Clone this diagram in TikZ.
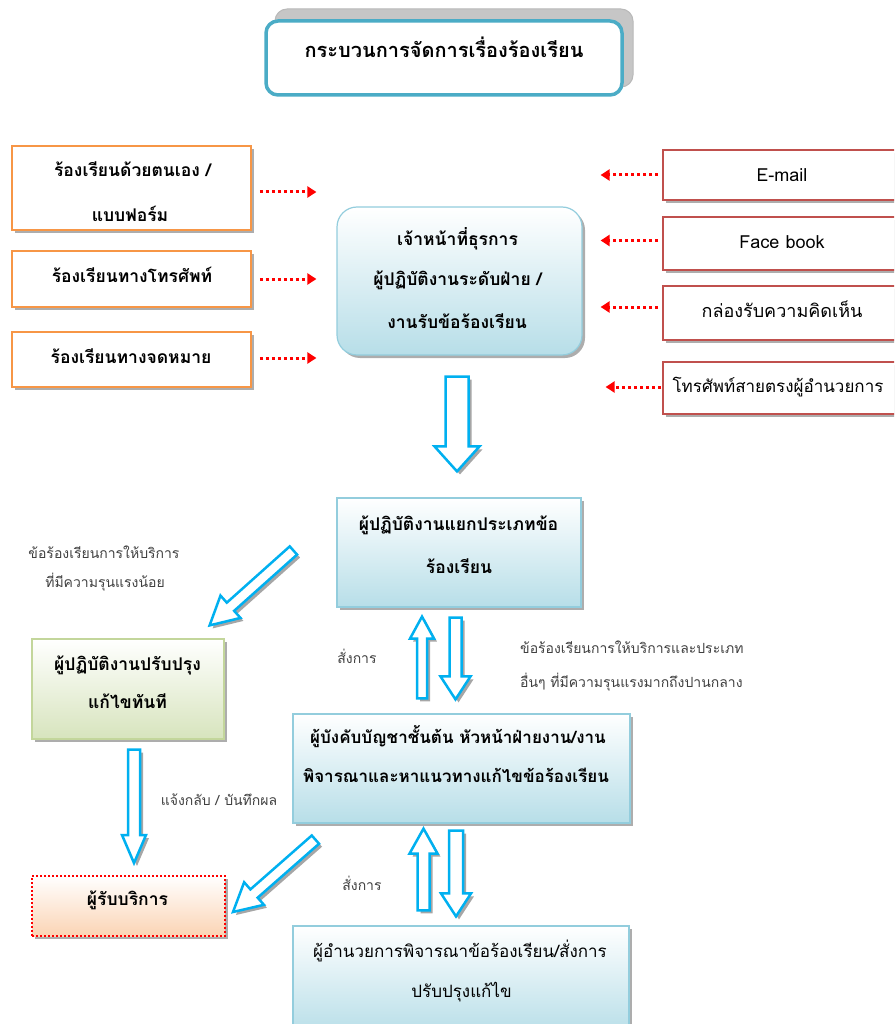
\documentclass[tikz,border=0pt]{standalone}
\usepackage{fontspec}
\setmainfont{Loma}[Script=Thai]
\usetikzlibrary{calc,shadows,arrows.meta}
\definecolor{cTeal}{HTML}{4BACC6}
\definecolor{cOrange}{HTML}{F79646}
\definecolor{cRedB}{HTML}{C0504D}
\definecolor{cLBlue}{HTML}{93CDDD}
\definecolor{cBlueFill}{HTML}{B7DEE8}
\definecolor{cArrow}{HTML}{00B0F0}
\definecolor{cGreenB}{HTML}{C3D69B}
\definecolor{cGreenF}{HTML}{D7E4BD}
\definecolor{cPeach}{HTML}{FBD4B4}
\definecolor{cNote}{HTML}{404040}
\newcommand\blockarrow[5]{%
  \coordinate (bah) at ($(#2)!#5!(#1)$);
  \path[blockarr] ($(#1)!#3!90:(#2)$) -- ($(bah)!#3!90:(#2)$) -- ($(bah)!#4!90:(#2)$) -- (#2)
    -- ($(bah)!#4!-90:(#2)$) -- ($(bah)!#3!-90:(#2)$) -- ($(#1)!#3!-90:(#2)$) -- cycle;
}
\begin{document}
\begin{tikzpicture}[x=1pt,y=-1pt,
  shadowed/.style={drop shadow={shadow xshift=3pt,shadow yshift=-3pt,opacity=0.8,fill=black!40}},
  boxbase/.style={rectangle,inner sep=0pt},
  obox/.style={boxbase,draw=cOrange,line width=1.8pt,fill=white,shadowed},
  rbox/.style={boxbase,draw=cRedB,line width=1.8pt,fill=white,shadowed},
  bbox/.style={boxbase,draw=cLBlue,line width=1.2pt,top color=white,bottom color=cBlueFill,shadowed},
  gbox/.style={boxbase,draw=cGreenB,line width=1.2pt,top color=white,bottom color=cGreenF,shadowed},
  sbox/.style={boxbase,draw=red,line width=2pt,dotted,top color=white,bottom color=cPeach,shadowed},
  lbl/.style={anchor=base,inner sep=0pt,font=\fontsize{17.5}{20}\selectfont\bfseries},
  rlbl/.style={anchor=base,inner sep=0pt,font=\fontsize{18}{20}\selectfont},
  note/.style={anchor=base,inner sep=0pt,text=cNote,font=\fontsize{14}{16}\selectfont},
  reddot/.style={draw=red,line width=3pt,dash pattern=on 3pt off 3pt,-{Triangle[length=9pt,width=11pt]}},
  blockarr/.style={draw=cArrow,line width=2.5pt,fill=white,line join=miter,
    drop shadow={shadow xshift=3pt,shadow yshift=-3pt,opacity=0.7,fill=black!50}}
]
\useasboundingbox (0,0) rectangle (894,1024);
\clip (0,0) rectangle (894,1024);

% title
\node[boxbase,draw=gray!55,fill=gray!45,line width=1pt,rounded corners=12pt,minimum width=358,minimum height=78] (tshadow) at (454,48) {};
\node[boxbase,draw=cTeal,fill=white,line width=3.5pt,rounded corners=12pt,minimum width=356,minimum height=74] (title) at (444,58) {};
\node[lbl,font=\fontsize{20}{22}\selectfont\bfseries] (titletext) at (444,58) {กระบวนการจัดการเรื่องร้องเรียน};

% left channel boxes
\node[obox,minimum width=239,minimum height=84] (L1) at (131.5,188) {};
\node[lbl] (L1a) at (132.5,177) {ร้องเรียนด้วยตนเอง /};
\node[lbl] (L1b) at (130,222) {แบบฟอร์ม};
\node[obox,minimum width=239,minimum height=56] (L2) at (131.5,279) {};
\node[lbl] (L2a) at (132,282) {ร้องเรียนทางโทรศัพท์};
\node[obox,minimum width=239,minimum height=55] (L3) at (131.5,359.5) {};
\node[lbl] (L3a) at (131,363) {ร้องเรียนทางจดหมาย};

% centre reception box
\node[bbox,rounded corners=20pt,minimum width=245,minimum height=148] (C1) at (459.5,281) {};
\node[lbl] (C1a) at (457.5,245) {เจ้าหน้าที่ธุรการ};
\node[lbl] (C1b) at (457.5,285) {ผู้ปฏิบัติงานระดับฝ่าย /};
\node[lbl] (C1c) at (457,328) {งานรับข้อร้องเรียน};

% right channel boxes
\node[rbox,minimum width=237,minimum height=50] (R1) at (781.5,175) {};
\node[rlbl] (R1a) at (782,182) {E-mail};
\node[rbox,minimum width=237,minimum height=53] (R2) at (781.5,243.5) {};
\node[rlbl] (R2a) at (782,248) {Face book};
\node[rbox,minimum width=237,minimum height=54] (R3) at (781.5,313) {};
\node[rlbl] (R3a) at (782,317) {กล่องรับความคิดเห็น};
\node[rbox,minimum width=237,minimum height=52] (R4) at (781.5,388) {};
\node[rlbl,font=\fontsize{17}{20}\selectfont] (R4a) at (778,392) {โทรศัพท์สายตรงผู้อำนวยการ};

% red dotted arrows
\draw[reddot,shorten <=8pt,shorten >=20pt] ([yshift=-4pt]L1.east) -- ([yshift=-4pt]L1.east -| C1.west);
\draw[reddot,shorten <=8pt,shorten >=20pt] (L2.east) -- (L2.east -| C1.west);
\draw[reddot,shorten <=8pt,shorten >=20pt] ([yshift=1.5pt]L3.east) -- ([yshift=1.5pt]L3.east -| C1.west);
\draw[reddot,shorten <=4pt,shorten >=18pt] (R1.west) -- (R1.west -| C1.east);
\draw[reddot,shorten <=4pt,shorten >=18pt] ([yshift=3pt]R2.west) -- ([yshift=3pt]R2.west -| C1.east);
\draw[reddot,shorten <=4pt,shorten >=18pt] ([yshift=6pt]R3.west) -- ([yshift=6pt]R3.west -| C1.east);
\draw[reddot,shorten <=1pt,shorten >=23pt] ([yshift=1pt]R4.west) -- ([yshift=1pt]R4.west -| C1.east);

% classification box
\node[bbox,minimum width=244,minimum height=109] (C2) at (459,552.5) {};
\node[lbl] (C2a) at (458.5,530) {ผู้ปฏิบัติงานแยกประเภทข้อ};
\node[lbl] (C2b) at (459,573) {ร้องเรียน};

% immediate fix box
\node[gbox,minimum width=192,minimum height=100] (G) at (128,689) {};
\node[lbl] (Ga) at (127.5,670) {ผู้ปฏิบัติงานปรับปรุง};
\node[lbl] (Gb) at (127.5,708) {แก้ไขทันที};

% supervisor box
\node[bbox,minimum width=337,minimum height=109] (C3) at (461.5,768.5) {};
\node[lbl,font=\fontsize{17}{20}\selectfont\bfseries] (C3a) at (458,743) {ผู้บังคับบัญชาชั้นต้น หัวหน้าฝ่ายงาน/งาน};
\node[lbl,font=\fontsize{17}{20}\selectfont\bfseries] (C3b) at (456,782) {พิจารณาและหาแนวทางแก้ไขข้อร้องเรียน};

% service receiver box
\node[sbox,minimum width=193,minimum height=60] (S) at (128.5,906) {};
\node[lbl] (Sa) at (127.5,905) {ผู้รับบริการ};

% director box
\node[bbox,minimum width=336,minimum height=109] (C4) at (461,980.5) {};
\node[rlbl,font=\fontsize{17}{20}\selectfont] (C4a) at (460,957) {ผู้อำนวยการพิจารณาข้อร้องเรียน/สั่งการ};
\node[rlbl,font=\fontsize{17}{20}\selectfont] (C4b) at (461.5,997) {ปรับปรุงแก้ไข};

% notes
\node[note] (n1) at (104,558) {ข้อร้องเรียนการให้บริการ};
\node[note] (n2) at (105,587) {ที่มีความรุนแรงน้อย};
\node[note] (n3) at (357,663) {สั่งการ};
\node[note,anchor=base west] (n4) at (520,653) {ข้อร้องเรียนการให้บริการและประเภท};
\node[note,anchor=base west] (n5) at (520,687) {อื่นๆ ที่มีความรุนแรงมากถึงปานกลาง};
\node[note] (n6) at (219,805) {แจ้งกลับ / บันทึกผล};
\node[note] (n7) at (362,890) {สั่งการ};

% block arrow end points
\coordinate (a1t) at ($(C1.south)+(-2.5,21)$);
\coordinate (a1h) at ($(C2.north)+(-2,-26)$);
\coordinate (d1t) at ($(C2.west)+(-43,-2)$);
\coordinate (d1h) at ($(G.north east)+(-15,-13)$);
\coordinate (u1h) at ($(C2.south)+(-37,9)$);
\coordinate (u1t) at ($(C3.north)+(-39.5,-15)$);
\coordinate (d2t) at ($(C2.south)+(-3.5,10)$);
\coordinate (d2h) at ($(C3.north)+(-6,-14)$);
\coordinate (v1t) at ($(G.south)+(6,10)$);
\coordinate (v1h) at ($(S.north)+(5.5,-12)$);
\coordinate (d3t) at ($(C3.south west)+(23,16)$);
\coordinate (d3h) at ($(S.east)+(7,6)$);
\coordinate (u2h) at ($(C3.south)+(-38,5)$);
\coordinate (u2t) at ($(C4.north)+(-37.5,-15)$);
\coordinate (d4t) at ($(C3.south)+(-5.5,7)$);
\coordinate (d4h) at ($(C4.north)+(-5,-9)$);

\blockarrow{a1t}{a1h}{11.5pt}{22.5pt}{25pt}
\blockarrow{d1t}{d1h}{5.5pt}{15pt}{28pt}
\blockarrow{u1t}{u1h}{5pt}{12pt}{22pt}
\blockarrow{d2t}{d2h}{6pt}{15pt}{23pt}
\blockarrow{v1t}{v1h}{6pt}{12pt}{28pt}
\blockarrow{d3t}{d3h}{5.5pt}{15pt}{28pt}
\blockarrow{u2t}{u2h}{6pt}{14pt}{25pt}
\blockarrow{d4t}{d4h}{7pt}{15pt}{23pt}
\end{tikzpicture}
\end{document}
